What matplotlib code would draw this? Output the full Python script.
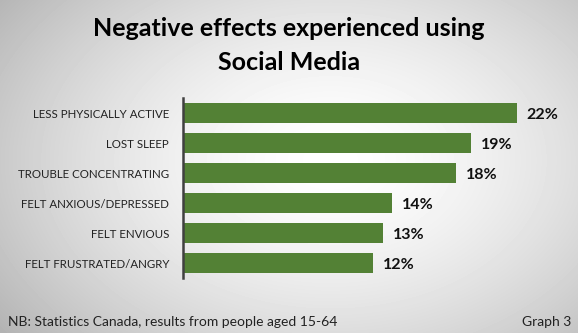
import numpy as np
import matplotlib
matplotlib.use("Agg")
import matplotlib.pyplot as plt

# data
categories = ["LESS PHYSICALLY ACTIVE", "LOST SLEEP", "TROUBLE CONCENTRATING",
              "FELT ANXIOUS/DEPRESSED", "FELT ENVIOUS", "FELT FRUSTRATED/ANGRY"]
values = [22.0, 19.0, 18.0, 13.8, 13.2, 12.5]
value_labels = ["22%", "19%", "18%", "14%", "13%", "12%"]

plt.rcParams["font.family"] = ["Lato", "DejaVu Sans"]

W, H = 578, 333
fig = plt.figure(figsize=(W / 100, H / 100), dpi=100)

# radial grey gradient background
bg = fig.add_axes([0, 0, 1, 1])
yy, xx = np.mgrid[0:H, 0:W]
cx, cy = 330, 160
r = np.sqrt(((xx - cx) / 380.0) ** 2 + ((yy - cy) / 260.0) ** 2)
shade = 1.0 - 0.26 * np.clip(r, 0, 1.2) ** 1.6
bg.imshow(shade, cmap="gray", vmin=0, vmax=1, aspect="auto",
          extent=[0, 1, 0, 1], interpolation="bilinear")
bg.axis("off")

ax = fig.add_axes([183 / W, 55 / H, 379.5 / W, 180 / H])
ax.patch.set_alpha(0)
y = np.arange(len(categories))
ax.barh(y, values, height=0.65, color="#538135")
ax.set_xlim(0, 25)
ax.set_ylim(len(categories) - 0.5, -0.5)
ax.set_yticks(y)
ax.set_yticklabels(categories, fontsize=8.3, color="#222222")
ax.tick_params(axis="y", length=0, pad=10)
ax.set_xticks([])
for s in ("top", "right", "bottom"):
    ax.spines[s].set_visible(False)
ax.spines["left"].set_color("#404040")
ax.spines["left"].set_linewidth(1.8)

for yi, v, lab in zip(y, values, value_labels):
    ax.text(v + 0.65, yi + 0.08, lab, va="center", ha="left",
            fontsize=11.5, fontweight="bold", color="#111111")

fig.text(0.5, 1 - 28 / H, "Negative effects experienced using",
         ha="center", va="center", fontsize=18, fontweight="bold")
fig.text(0.5, 1 - 62 / H, "Social Media",
         ha="center", va="center", fontsize=18, fontweight="bold")

fig.text(8 / W, 1 - 322 / H, "NB: Statistics Canada, results from people aged 15-64",
         ha="left", va="center", fontsize=10, color="#222222")
fig.text(571 / W, 1 - 322 / H, "Graph 3",
         ha="right", va="center", fontsize=10, color="#222222")

fig.savefig("out.png", dpi=100)
